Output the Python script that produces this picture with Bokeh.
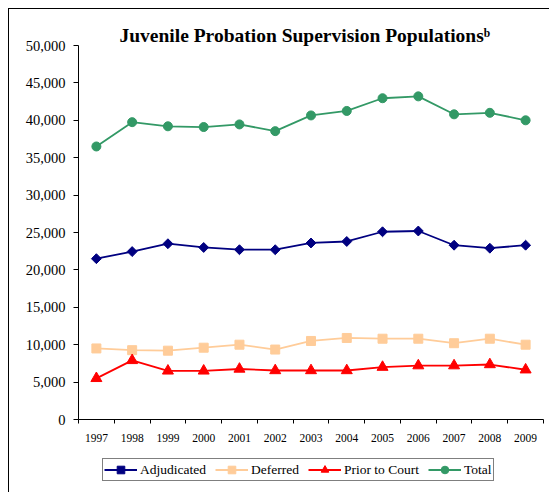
from bokeh.plotting import figure
from bokeh.layouts import column
from bokeh.models import (ColumnDataSource, FixedTicker, NumeralTickFormatter, Legend,
                          LegendItem, Range1d, Title)
from bokeh.embed import file_html
from bokeh.resources import INLINE

years = [1997, 1998, 1999, 2000, 2001, 2002, 2003, 2004, 2005, 2006, 2007, 2008, 2009]
adjudicated = [21500, 22450, 23500, 23000, 22700, 22700, 23600, 23800, 25100, 25200, 23300, 22900, 23300]
deferred = [9500, 9270, 9200, 9600, 10000, 9350, 10500, 10900, 10800, 10800, 10200, 10800, 10000]
prior_to_court = [5500, 7900, 6500, 6500, 6750, 6550, 6550, 6550, 7000, 7200, 7200, 7350, 6650]
total = [36500, 39750, 39200, 39100, 39450, 38550, 40650, 41250, 42950, 43200, 40800, 41000, 40000]
y_ticks = [0, 5000, 10000, 15000, 20000, 25000, 30000, 35000, 40000, 45000, 50000]
title_text = "Juvenile Probation Supervision Populations\u1d47"

FONT = "Liberation Serif"

p = figure(width=540, height=441, output_backend="svg", toolbar_location=None,
           x_range=Range1d(years[0] - 0.5, years[-1] + 0.5),
           y_range=Range1d(y_ticks[0], y_ticks[-1]),
           min_border_left=69, min_border_right=6, min_border_top=36, min_border_bottom=31)
p.outline_line_color = None
p.xgrid.visible = False
p.ygrid.visible = False
p.background_fill_color = "white"
p.border_fill_color = "white"

# y axis
ya = p.yaxis[0]
ya.ticker = FixedTicker(ticks=y_ticks, minor_ticks=[])
ya.formatter = NumeralTickFormatter(format="0,0")
ya.major_tick_in = 0
ya.major_tick_out = 5
ya.minor_tick_line_color = None
ya.axis_line_color = "black"
ya.major_tick_line_color = "black"
ya.major_label_text_font = FONT
ya.major_label_text_font_size = "14.5px"
ya.major_label_text_color = "black"
ya.major_label_standoff = 8

# x axis: labels at years, tick marks at boundaries
xa = p.xaxis[0]
xa.ticker = FixedTicker(ticks=years, minor_ticks=[y - 0.5 for y in years] + [years[-1] + 0.5])
xa.major_label_overrides = {y: str(y) for y in years}
xa.major_tick_line_color = None
xa.major_tick_in = 0
xa.major_tick_out = 0
xa.minor_tick_in = 0
xa.minor_tick_out = 4
xa.minor_tick_line_color = "black"
xa.axis_line_color = "black"
xa.major_label_text_font = FONT
xa.major_label_text_font_size = "11.5px"
xa.major_label_text_color = "black"
xa.major_label_standoff = 10

p.add_layout(Title(text=title_text, align="left", offset=41, standoff=0,
                   text_font=FONT, text_font_style="bold", text_font_size="19.5px",
                   text_color="black"), "above")

src = ColumnDataSource(dict(year=years, adj=adjudicated, dfr=deferred, pri=prior_to_court, tot=total))

series = [
    ("Adjudicated", "adj", "#000080", dict(marker="square", size=7, angle=0.785398)),
    ("Deferred", "dfr", "#FFCC99", dict(marker="square", size=9)),
    ("Prior to Court", "pri", "#FF0000", dict(marker="triangle", size=11)),
    ("Total", "tot", "#339966", dict(marker="circle", size=9)),
]

# legend strip below the chart (its own small figure; series there lie outside its ranges)
lf = figure(width=540, height=42, output_backend="svg", toolbar_location=None,
            x_range=Range1d(0, 1), y_range=Range1d(0, 1),
            x_axis_location=None, y_axis_location=None,
            min_border_left=0, min_border_right=0, min_border_top=0, min_border_bottom=0)
lf.outline_line_color = None
lf.xgrid.visible = False
lf.ygrid.visible = False
lf.border_fill_color = "white"

items = []
for name, col, color, mk in series:
    p.line("year", col, source=src, line_color=color, line_width=1.8)
    p.scatter("year", col, source=src, fill_color=color, line_color=color, **mk)
    l2 = lf.line("year", col, source=src, line_color=color, line_width=1.8)
    s2 = lf.scatter("year", col, source=src, fill_color=color, line_color=color, **mk)
    items.append(LegendItem(label=name, renderers=[l2, s2]))

legend = Legend(items=items, orientation="horizontal", location=(24, 11),
                border_line_color="black", border_line_width=1,
                background_fill_color="white", background_fill_alpha=1,
                padding=1, spacing=9, margin=0,
                glyph_width=33, glyph_height=19, label_height=19, label_standoff=3,
                label_text_font=FONT, label_text_font_size="13.5px", label_text_color="black")
lf.add_layout(legend, "center")

layout = column(p, lf, spacing=0,
                styles={"margin-left": "8px", "margin-top": "8px",
                        "border-left": "1px solid black", "border-top": "1px solid black"})

open("out.html", "w").write(file_html(layout, INLINE))
